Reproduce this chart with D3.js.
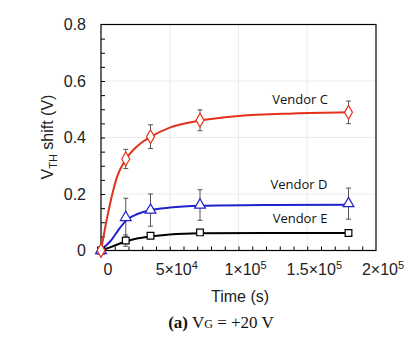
<!DOCTYPE html>
<html><head><meta charset="utf-8">
<script src="https://cdn.jsdelivr.net/npm/d3@7"></script>
<style>html,body{margin:0;padding:0;background:#fff;}svg{display:block;}</style>
</head><body>
<script>
// measured points
const timePts = [0, 18000, 36000, 72000, 180000];
const vendorC = [0, 0.324, 0.403, 0.461, 0.489];
const vendorCErr = [0, 0.034, 0.042, 0.037, 0.040];
const vendorD = [0, 0.117, 0.143, 0.161, 0.166];
const vendorDErr = [0, 0.068, 0.057, 0.054, 0.055];
const vendorE = [0, 0.035, 0.052, 0.064, 0.062];
const vendorEErr = [0, 0.020, 0.006, 0.005, 0.005];
// fitted curves
const fitTimeC = [0, 3000, 7500, 12000, 18000, 27000, 36000, 50000, 72000, 100000, 140000, 180000];
const fitC = [0, 0.08, 0.185, 0.265, 0.322, 0.372, 0.402, 0.435, 0.460, 0.476, 0.485, 0.489];
const fitTimeD = [0, 3000, 7500, 12000, 18000, 27000, 36000, 50000, 72000, 120000, 180000];
const fitD = [0, 0.015, 0.037, 0.068, 0.105, 0.130, 0.143, 0.152, 0.158, 0.161, 0.162];
const fitTimeE = [0, 7500, 18000, 27000, 36000, 50000, 72000, 120000, 180000];
const fitE = [0, 0.013, 0.032, 0.043, 0.050, 0.057, 0.061, 0.062, 0.062];
// axis ticks
const yTicks = [0, 0.2, 0.4, 0.6, 0.8];
const yTickLabels = ["0", "0.2", "0.4", "0.6", "0.8"];
const xTicks = [0, 50000, 100000, 150000, 200000];
const xTickMant = ["0", "5×10", "1×10", "1.5×10", "2×10"];
const xTickExp = ["", "4", "5", "5", "5"];
const seriesNames = ["Vendor C", "Vendor D", "Vendor E"];

const W = 404, H = 341;
const svg = d3.select("body").append("svg").attr("width", W).attr("height", H);
const x = d3.scaleLinear().domain([0, 200000]).range([101, 376]);
const y = d3.scaleLinear().domain([0, 0.8]).range([250.5, 24.5]);
const sans = "'Liberation Sans', Arial, sans-serif";

// gridlines
const grid = svg.append("g").attr("stroke", "#ececec").attr("stroke-width", 1);
xTicks.slice(1, 4).forEach(v => grid.append("line").attr("x1", x(v)).attr("x2", x(v)).attr("y1", y(0.8)).attr("y2", y(0)));
yTicks.slice(1, 4).forEach(v => grid.append("line").attr("x1", x(0)).attr("x2", x(200000)).attr("y1", y(v)).attr("y2", y(v)));

// axes with inward minor ticks
const xMinor = d3.range(10000, 200000, 10000);
const yMinor = d3.range(0.05, 0.8, 0.05);
svg.append("g").attr("transform", `translate(0,${y(0)})`)
  .call(d3.axisTop(x).tickValues(xMinor).tickSize(4).tickFormat(""))
  .call(g => g.select(".domain").remove())
  .selectAll("line").attr("stroke", "#000");
svg.append("g").attr("transform", `translate(${x(0)},0)`)
  .call(d3.axisRight(y).tickValues(yMinor).tickSize(4).tickFormat(""))
  .call(g => g.select(".domain").remove())
  .selectAll("line").attr("stroke", "#000");
svg.append("rect").attr("x", x(0)).attr("y", y(0.8)).attr("width", x(200000) - x(0)).attr("height", y(0) - y(0.8))
  .attr("fill", "none").attr("stroke", "#000").attr("stroke-width", 1.2);

// y tick labels
svg.append("g").selectAll("text").data(yTicks).join("text")
  .attr("x", 86).attr("y", d => y(d)).attr("dy", "0.36em").attr("text-anchor", "end")
  .attr("font-family", sans).attr("font-size", 16).attr("fill", "#222")
  .text((d, i) => yTickLabels[i]);
// x tick labels
const xl = svg.append("g").selectAll("text").data(xTicks).join("text")
  .attr("x", d => x(d) + 7).attr("y", 275).attr("text-anchor", "middle")
  .attr("font-family", sans).attr("font-size", 16).attr("fill", "#222");
xl.append("tspan").text((d, i) => xTickMant[i]);
xl.append("tspan").attr("font-size", 11).attr("dy", -6).text((d, i) => xTickExp[i]);

// axis titles
svg.append("text").attr("x", 240).attr("y", 302).attr("text-anchor", "middle")
  .attr("font-family", sans).attr("font-size", 16).attr("fill", "#222").text("Time (s)");
const yt = svg.append("text").attr("transform", "translate(53,137) rotate(-90)").attr("text-anchor", "middle")
  .attr("font-family", sans).attr("font-size", 16).attr("fill", "#222");
yt.append("tspan").text("V");
yt.append("tspan").attr("font-size", 11).attr("dy", 4).text("TH");
yt.append("tspan").attr("dy", -4).text(" shift (V)");

// caption
const cap = svg.append("text").attr("x", 221).attr("y", 328).attr("text-anchor", "middle")
  .attr("font-family", "'Liberation Serif', 'Times New Roman', serif").attr("font-size", 17).attr("fill", "#111");
cap.append("tspan").attr("font-weight", "bold").text("(a)");
cap.append("tspan").text(" V");
cap.append("tspan").attr("font-size", 12).text("G");
cap.append("tspan").text(" = +20 V");

// series
const series = [
  {name: seriesNames[0], color: "#e2321c", ft: fitTimeC, fv: fitC, v: vendorC, e: vendorCErr, shape: "diamond", lx: 300, ly: 104},
  {name: seriesNames[1], color: "#2222cc", ft: fitTimeD, fv: fitD, v: vendorD, e: vendorDErr, shape: "triangle", lx: 299, ly: 189},
  {name: seriesNames[2], color: "#000000", ft: fitTimeE, fv: fitE, v: vendorE, e: vendorEErr, shape: "square", lx: 300, ly: 223}
];
const line = d3.line().x(d => x(d[0])).y(d => y(d[1])).curve(d3.curveMonotoneX);

// error bars
series.forEach(s => {
  const g = svg.append("g").attr("stroke", "#555").attr("stroke-width", 1);
  timePts.forEach((t, i) => {
    if (!s.e[i]) return;
    const cx = x(t);
    g.append("line").attr("x1", cx).attr("x2", cx).attr("y1", y(s.v[i] + s.e[i])).attr("y2", y(s.v[i] - s.e[i]));
    [s.v[i] + s.e[i], s.v[i] - s.e[i]].forEach(v => g.append("line").attr("x1", cx - 2.5).attr("x2", cx + 2.5).attr("y1", y(v)).attr("y2", y(v)));
  });
});
// curves
series.forEach(s => {
  svg.append("path").attr("d", line(s.ft.map((t, i) => [t, s.fv[i]])))
    .attr("fill", "none").attr("stroke", s.color).attr("stroke-width", 2);
});
// markers
const symbols = {diamond: d3.symbolDiamond, triangle: d3.symbolTriangle, square: d3.symbolSquare};
const sizes = {diamond: 55, triangle: 50, square: 45};
series.slice().reverse().forEach(s => {
  svg.append("g").selectAll("path").data(timePts).join("path")
    .attr("transform", (t, i) => `translate(${x(t)},${y(s.v[i])})`)
    .attr("d", d3.symbol().type(symbols[s.shape]).size(sizes[s.shape]))
    .attr("fill", "#fff").attr("stroke", s.color).attr("stroke-width", 1.2);
});
// series labels
svg.append("g").selectAll("text").data(series).join("text")
  .attr("x", d => d.lx).attr("y", d => d.ly).attr("text-anchor", "middle")
  .attr("font-family", "'Open Sans', sans-serif").attr("font-size", 13).attr("fill", "#111")
  .text(d => d.name);
</script>
</body></html>
